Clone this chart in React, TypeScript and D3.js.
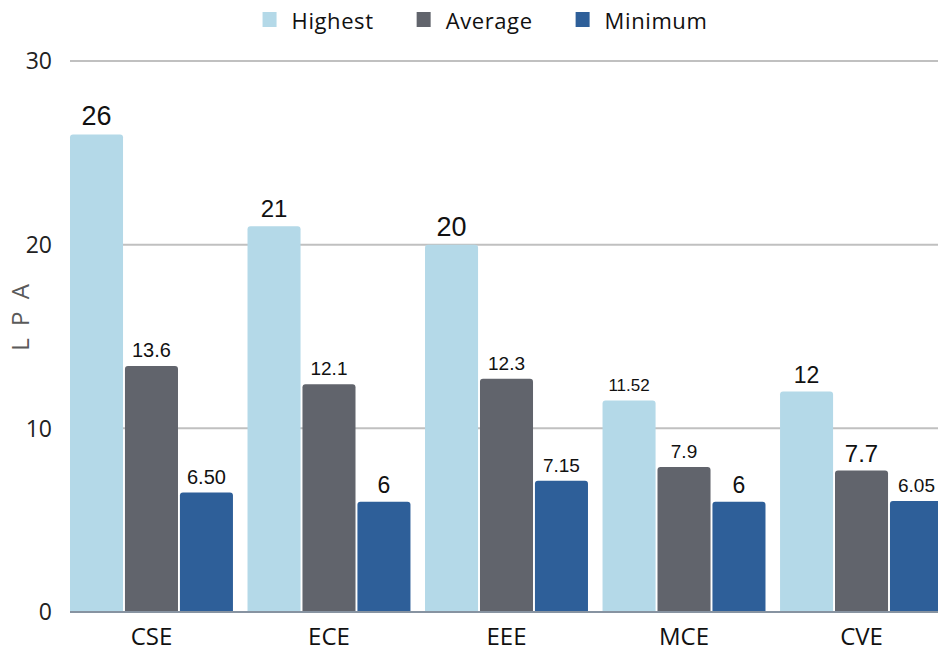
import { useEffect, useRef } from "react"
import * as d3 from "d3"

const branches = ["CSE", "ECE", "EEE", "MCE", "CVE"]
const seriesNames = ["Highest", "Average", "Minimum"]

// bar heights (LPA)
const highest = [26, 21, 20, 11.52, 12]
const average = [13.4, 12.4, 12.7, 7.9, 7.7]
const minimum = [6.5, 6, 7.15, 6, 6.05]

// value labels as printed on the chart
const highestLabels = ["26", "21", "20", "11.52", "12"]
const averageLabels = ["13.6", "12.1", "12.3", "7.9", "7.7"]
const minimumLabels = ["6.50", "6", "7.15", "6", "6.05"]

const yTicks = [0, 10, 20, 30]

const colors = ["#b4d9e8", "#61646c", "#2e5f99"]
// label font sizes differ per bar in the original
const labelSizes = [
  [27, 24, 27, 17, 23],
  [20, 19, 19, 19, 24],
  [20, 23, 19, 23, 19],
]

export default function App() {
  const svgRef = useRef<SVGSVGElement>(null)

  useEffect(() => {
    if (!svgRef.current) return
    const W = 938
    const H = 649
    const margin = { top: 61, left: 70, bottom: 37 }

    const svg = d3.select(svgRef.current)
    svg.selectAll("*").remove()
    svg.attr("width", W).attr("height", H)

    const y = d3.scaleLinear().domain([0, 30]).range([H - margin.bottom, margin.top])

    const x0 = d3
      .scaleBand()
      .domain(branches)
      .range([margin.left, margin.left + 873])
      .paddingInner(0.082)
      .paddingOuter(0)

    const x1 = d3.scaleBand().domain(seriesNames).range([0, x0.bandwidth()]).paddingInner(0.035)

    // grid
    svg
      .append("g")
      .selectAll("line")
      .data(yTicks.filter((t) => t > 0))
      .join("line")
      .attr("x1", margin.left)
      .attr("x2", W)
      .attr("y1", (d) => y(d))
      .attr("y2", (d) => y(d))
      .attr("stroke", "#c0c0c0")
      .attr("stroke-width", 2)

    // y tick labels
    svg
      .append("g")
      .selectAll("text")
      .data(yTicks)
      .join("text")
      .attr("x", 52)
      .attr("y", (d) => y(d))
      .attr("dy", "0.36em")
      .attr("text-anchor", "end")
      .style("font-family", "'Open Sans', sans-serif")
      .style("font-size", "23px")
      .style("fill", "#222")
      .text((d) => d)

    // y title
    svg
      .append("text")
      .attr("transform", `translate(29,316) rotate(-90)`)
      .attr("text-anchor", "middle")
      .style("font-family", "'Open Sans', sans-serif")
      .style("font-size", "24px")
      .style("letter-spacing", "3px")
      .style("fill", "#5a5a5a")
      .text("L P A")

    const series = [highest, average, minimum]
    const labels = [highestLabels, averageLabels, minimumLabels]

    const barPath = (x: number, top: number, w: number, bottom: number, r: number) =>
      `M${x},${bottom}V${top + r}Q${x},${top} ${x + r},${top}H${x + w - r}Q${x + w},${top} ${x + w},${top + r}V${bottom}Z`

    series.forEach((vals, si) => {
      const g = svg.append("g")
      g.selectAll("path")
        .data(vals)
        .join("path")
        .attr("d", (d, i) =>
          barPath((x0(branches[i]) ?? 0) + (x1(seriesNames[si]) ?? 0), y(d), x1.bandwidth(), y(0), 3),
        )
        .attr("fill", colors[si])

      g.selectAll("text")
        .data(vals)
        .join("text")
        .attr("x", (_, i) => (x0(branches[i]) ?? 0) + (x1(seriesNames[si]) ?? 0) + x1.bandwidth() / 2)
        .attr("y", (d) => y(d) - 9)
        .attr("text-anchor", "middle")
        .style("font-family", "'Liberation Sans', Arial, sans-serif")
        .style("font-size", (_, i) => `${labelSizes[si][i]}px`)
        .style("fill", "#111")
        .text((_, i) => labels[si][i])
    })

    // baseline
    svg
      .append("line")
      .attr("x1", margin.left)
      .attr("x2", W)
      .attr("y1", y(0))
      .attr("y2", y(0))
      .attr("stroke", "#8793a1")
      .attr("stroke-width", 2)

    // x labels
    svg
      .append("g")
      .selectAll("text")
      .data(branches)
      .join("text")
      .attr("x", (d) => (x0(d) ?? 0) + x0.bandwidth() / 2)
      .attr("y", 645)
      .attr("text-anchor", "middle")
      .style("font-family", "'Open Sans', sans-serif")
      .style("font-size", "24px")
      .style("fill", "#111")
      .text((d) => d)

    // legend
    const legend = svg.append("g")
    let cx = 0
    seriesNames.forEach((name, i) => {
      const item = legend.append("g").attr("transform", `translate(${cx},0)`)
      item.append("rect").attr("x", 0).attr("y", 12).attr("width", 14).attr("height", 15).attr("fill", colors[i])
      const t = item
        .append("text")
        .attr("x", 29)
        .attr("y", 29)
        .style("font-family", "'Open Sans', sans-serif")
        .style("font-size", "22px")
        .style("letter-spacing", "0.6px")
        .style("fill", "#111")
        .text(name)
      const len = (t.node() as SVGTextElement).getComputedTextLength()
      cx += 29 + len + 43
    })
    const lw = cx - 43
    legend.attr("transform", `translate(${485 - lw / 2},0)`)
  }, [])

  return <svg ref={svgRef} style={{ position: "absolute", left: 0, top: 0, background: "#fff" }} />
}
